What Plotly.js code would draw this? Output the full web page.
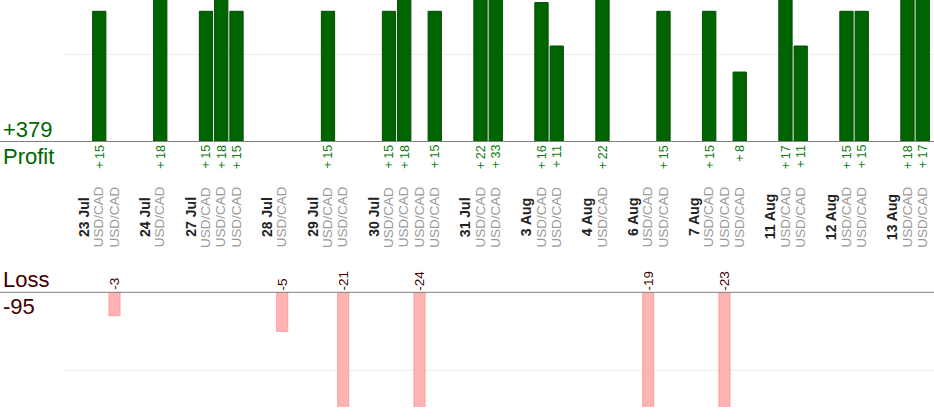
<!DOCTYPE html>
<html>
<head>
<meta charset="utf-8">
<script src="https://cdn.plot.ly/plotly-3.0.1.min.js"></script>
<style>
  html, body { margin: 0; padding: 0; background: #fff; }
  #chart { width: 934px; height: 420px; }
</style>
</head>
<body>
<div id="chart"></div>
<script>
// trades, one entry per deal
const tradeDay = ['23 Jul','23 Jul','24 Jul','27 Jul','27 Jul','27 Jul','28 Jul','29 Jul','29 Jul',
  '30 Jul','30 Jul','30 Jul','30 Jul','31 Jul','31 Jul','3 Aug','3 Aug','4 Aug','6 Aug','6 Aug',
  '7 Aug','7 Aug','7 Aug','11 Aug','11 Aug','12 Aug','12 Aug','13 Aug','13 Aug'];
const tradePair = new Array(tradeDay.length).fill('USD/CAD');
const tradeResult = [15,-3,18,15,18,15,-5,15,-21,15,18,-24,15,22,33,16,11,22,-19,15,15,-23,8,17,11,15,15,18,17];

// slot positions: date label, its trades, then one empty slot
let slot = 0, lastDay = null;
const dayX = [], dayText = [], tradeX = [];
for (let i = 0; i < tradeDay.length; i++) {
  if (tradeDay[i] !== lastDay) {
    if (lastDay !== null) slot++;
    dayX.push(slot);
    dayText.push(tradeDay[i]);
    slot++;
    lastDay = tradeDay[i];
  }
  tradeX.push(slot);
  slot++;
}

const profitX = [], profitY = [], lossX = [], lossY = [];
tradeResult.forEach((v, i) => {
  if (v > 0) { profitX.push(tradeX[i]); profitY.push(v); }
  else { lossX.push(tradeX[i]); lossY.push(v); }
});
const totalProfit = profitY.reduce((a, b) => a + b, 0);
const totalLoss = lossY.reduce((a, b) => a + b, 0);

const fontFam = '"Liberation Sans", Arial, sans-serif';

const profit = {
  x: profitX, y: profitY, type: 'bar', xaxis: 'x', yaxis: 'y',
  width: 0.87,
  marker: { color: '#006400', line: { color: '#004d00', width: 1 } },
  hoverinfo: 'none'
};
const loss = {
  x: lossX, y: lossY, type: 'bar', xaxis: 'x', yaxis: 'y2',
  width: 0.72,
  marker: { color: '#ffb4b4', line: { color: '#ff9a9a', width: 1 } },
  hoverinfo: 'none'
};

const ann = [];
dayX.forEach((x, i) => ann.push({
  x: x, y: 0.467, xref: 'x', yref: 'paper', text: '<b>' + dayText[i] + '</b>',
  textangle: -90, showarrow: false, font: { size: 14, color: '#222', family: fontFam }
}));
tradeX.forEach((x, i) => ann.push({
  x: x, y: 0.467, xref: 'x', yref: 'paper', text: tradePair[i],
  textangle: -90, showarrow: false, font: { size: 13.5, color: '#999', family: fontFam }
}));
profitX.forEach((x, i) => ann.push({
  x: x, y: 0, xref: 'x', yref: 'y', yanchor: 'top', yshift: -1, text: '+\u2009' + profitY[i],
  textangle: -90, showarrow: false, font: { size: 12.5, color: '#0b7d0b', family: fontFam }
}));
lossX.forEach((x, i) => ann.push({
  x: x, y: 0, xref: 'x', yref: 'y2', yanchor: 'bottom', text: String(lossY[i]),
  textangle: -90, showarrow: false, font: { size: 13.5, color: '#3d0000', family: fontFam }
}));
// totals on the left
ann.push(
  { x: 0, xshift: -62, xref: 'paper', xanchor: 'left', y: 0, yref: 'y', yanchor: 'bottom', yshift: -2,
    text: '+' + totalProfit, showarrow: false, font: { size: 22, color: '#006600', family: fontFam } },
  { x: 0, xshift: -62, xref: 'paper', xanchor: 'left', y: 0, yref: 'y', yanchor: 'top',
    text: 'Profit', showarrow: false, font: { size: 22, color: '#006600', family: fontFam } },
  { x: 0, xshift: -62, xref: 'paper', xanchor: 'left', y: 0, yref: 'y2', yanchor: 'bottom', yshift: -2,
    text: 'Loss', showarrow: false, font: { size: 22, color: '#3d0000', family: fontFam } },
  { x: 0, xshift: -62, xref: 'paper', xanchor: 'left', y: 0, yref: 'y2', yanchor: 'top',
    text: String(totalLoss), showarrow: false, font: { size: 22, color: '#3d0000', family: fontFam } }
);

const layout = {
  width: 934, height: 420,
  margin: { l: 63, r: 0, t: 0, b: 13 },
  paper_bgcolor: '#fff', plot_bgcolor: '#fff',
  showlegend: false, barmode: 'overlay',
  font: { family: fontFam },
  xaxis: {
    range: [-1.377, 55.74], showgrid: false, zeroline: false,
    showticklabels: false, ticks: '', showline: false
  },
  yaxis: {
    domain: [0.6523, 1], range: [0, 16.3], tick0: 0, dtick: 10,
    showgrid: true, gridcolor: '#ececec', gridwidth: 1,
    zeroline: false, showticklabels: false, ticks: ''
  },
  yaxis2: {
    domain: [0, 0.2818], range: [-14.7, 0], tick0: 0, dtick: 10,
    showgrid: true, gridcolor: '#ececec', gridwidth: 1,
    zeroline: false, showticklabels: false, ticks: '', anchor: 'x'
  },
  shapes: [
    { type: 'line', xref: 'paper', x0: -0.0723, x1: 1, yref: 'y domain', y0: 0, y1: 0,
      line: { color: '#808080', width: 1 } },
    { type: 'line', xref: 'paper', x0: -0.0723, x1: 1, yref: 'y2 domain', y0: 1, y1: 1,
      line: { color: '#808080', width: 1 } }
  ],
  annotations: ann
};

Plotly.newPlot('chart', [profit, loss], layout, { displayModeBar: false, staticPlot: true });
</script>
</body>
</html>
